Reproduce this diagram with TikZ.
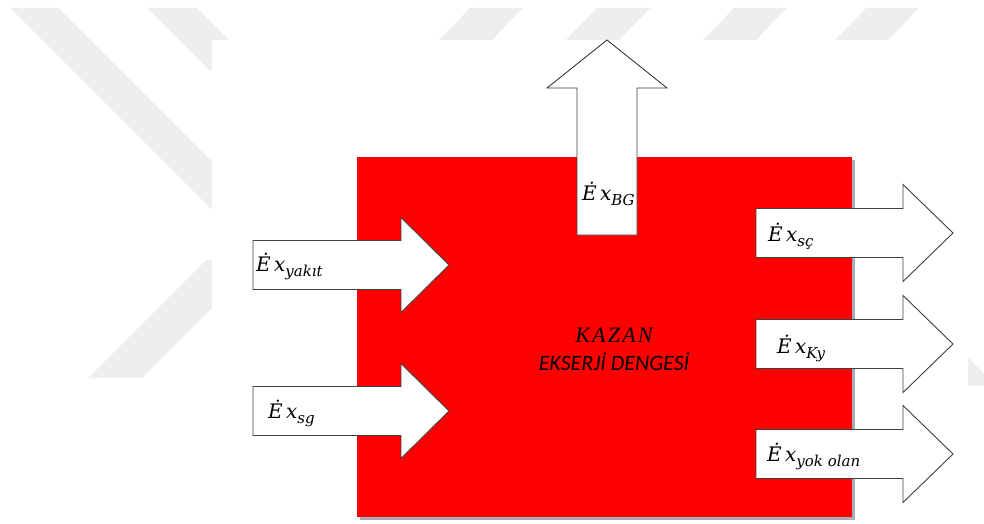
\documentclass[tikz,border=0pt]{standalone}
\usepackage{fontspec}
\newfontfamily\boxfont{Carlito}
\newfontfamily\kazanfont[LetterSpace=10]{Liberation Serif}
\newfontfamily\labfont{DejaVu Serif}
\definecolor{kazanred}{HTML}{FF0000}
\definecolor{wmgray}{HTML}{EEEEEE}
\definecolor{edgegray}{HTML}{404040}
\definecolor{shadowgray}{HTML}{A7ADBA}
% exergy stream label with a lowered subscript
\newcommand{\exflow}[1]{Ė\,x\raisebox{-5pt}{\fontsize{15}{17}\selectfont #1}}
\tikzset{x=1pt, y=-1pt, % one unit per pixel, y going down
  flow/.style={ % block arrows for the exergy streams
    draw=edgegray,
    line width=0.9pt,
    fill=white},
  wm/.style={fill=wmgray},
  lbl/.style={anchor=base west, inner sep=0pt,
    font=\labfont\fontsize{20}{24}\selectfont\itshape},
  boxtext/.style={anchor=base, inner sep=0pt,
    font=\fontsize{22}{26}\selectfont\itshape}}

\begin{document}
\begin{tikzpicture}
    % page with the faint stripes behind it
    \fill[white] (0,0) rectangle (984,524);
    \foreach \a in {470,597,734,866}
      \fill[wm] (\a,8) -- (\a+53,8) -- (\a+22,40) -- (\a-31,40) -- cycle;
    \fill[wm] (10,8) -- (58,8) -- (290,240) -- (242,240) -- cycle;
    \fill[wm] (147,8) -- (197,8) -- (260,71) -- (210,71) -- cycle;
    \fill[wm] (88,378) -- (142,378) -- (260,260) -- (206,260) -- cycle;
    \fill[wm] (968,358) -- (984,374) -- (984,386) -- (968,386) -- cycle;
    \fill[white] (212,40) rectangle (968,524);

    % boiler block
    \fill[shadowgray] (360,160) rectangle (855,520);
    \node[fill=kazanred, minimum width=495pt, minimum height=360pt,
      inner sep=0pt, anchor=north west] (kazan) at (357,157) {};
    \node[boxtext] (title) at (614,342) {\kazanfont KAZAN};
    \node[boxtext] (subtitle) at (614,370) {\boxfont EKSERJİ DENGESİ};

    % streams going in
    \foreach \yc in {265,411}
      \draw[flow] (253,\yc-24.5) -- (401,\yc-24.5) -- (401,\yc-47.5)
        -- (449,\yc) -- (401,\yc+47.5) -- (401,\yc+24.5)
        -- (253,\yc+24.5) -- cycle;
    % stream going up
    \draw[flow] (577,235) -- (577,88) -- (547,88) -- (607,40)
      -- (667,88) -- (637,88) -- (637,235) -- cycle;
    % streams going out
    \foreach \yc in {233,344,454}
      \draw[flow] (756,\yc-24.5) -- (903,\yc-24.5) -- (903,\yc-48.5)
        -- (953,\yc) -- (903,\yc+48.5) -- (903,\yc+24.5)
        -- (756,\yc+24.5) -- cycle;

    \node[lbl] (yakit) at (256,271) {\exflow{yakıt}};
    \node[lbl] (sg) at (268,418) {\exflow{sg}};
    \node[lbl] (bg) at (582,200) {\exflow{BG}};
    \node[lbl] (sc) at (768,241) {\exflow{sç}};
    \node[lbl] (ky) at (777,353) {\exflow{Ky}};
    \node[lbl] (yok) at (767,461) {\exflow{yok olan}};
\end{tikzpicture}
\end{document}
